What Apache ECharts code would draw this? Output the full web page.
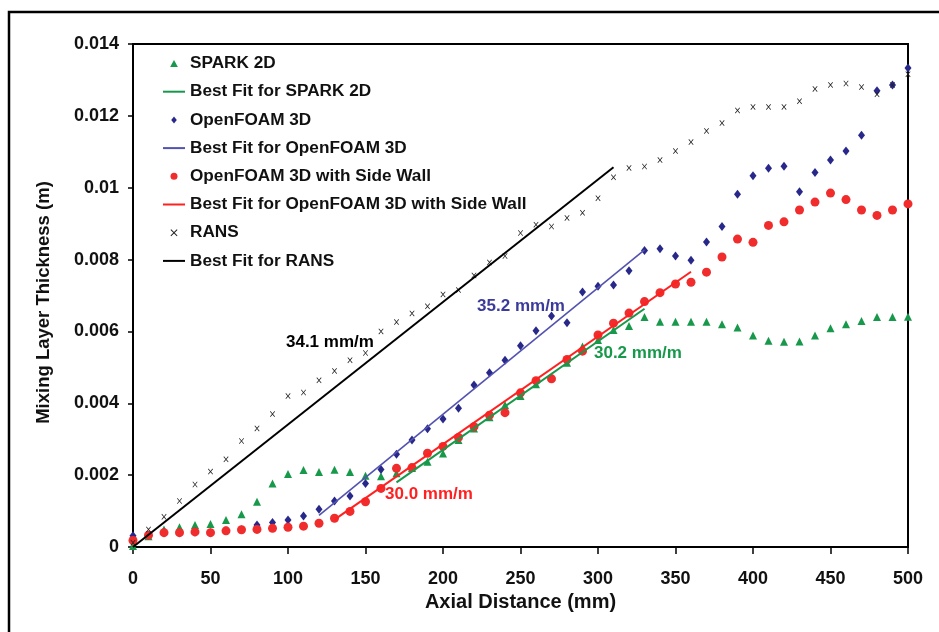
<!DOCTYPE html>
<html>
<head>
<meta charset="utf-8">
<title>Mixing Layer Thickness</title>
<script src="https://cdn.jsdelivr.net/npm/echarts@6/dist/echarts.min.js"></script>
<style>
  html, body { margin: 0; padding: 0; background: #fff; }
  #chart { width: 939px; height: 632px; }
</style>
</head>
<body>
<div id="chart"></div>
<script>
// axial stations (mm)
const axial = [0, 10, 20, 30, 40, 50, 60, 70, 80, 90, 100, 110, 120, 130, 140, 150, 160, 170, 180, 190, 200,
  210, 220, 230, 240, 250, 260, 270, 280, 290, 300, 310, 320, 330, 340, 350, 360, 370, 380, 390, 400,
  410, 420, 430, 440, 450, 460, 470, 480, 490, 500]

// mixing layer thickness (m)
const spark2d = [0.00003, 0.0003, 0.00049, 0.00055, 0.00061, 0.00064, 0.00075, 0.00091, 0.00126, 0.00177, 0.00203,
  0.00214, 0.00209, 0.00215, 0.00209, 0.00198, 0.00197, 0.00205, 0.0022, 0.00237, 0.0026,
  0.00298, 0.0033, 0.00361, 0.00395, 0.0042, 0.00453, 0.00474, 0.00513, 0.00558, 0.00576,
  0.00604, 0.00615, 0.0064, 0.00627, 0.00627, 0.00627, 0.00627, 0.0062, 0.00611, 0.00589,
  0.00574, 0.00571, 0.00572, 0.00589, 0.00609, 0.0062, 0.00629, 0.0064, 0.0064, 0.00641]

const openfoam3d = [0.00031, 0.00033, 0.0004, 0.0004, 0.00042, 0.0004, 0.00045, 0.00048, 0.00061, 0.00068, 0.00075,
  0.00086, 0.00105, 0.00128, 0.00142, 0.00177, 0.00216, 0.00258, 0.00298, 0.00329, 0.00356,
  0.00386, 0.00451, 0.00485, 0.0052, 0.0056, 0.00602, 0.00643, 0.00624, 0.0071, 0.00726,
  0.00729, 0.00769, 0.00825, 0.0083, 0.0081, 0.00798, 0.00849, 0.00892, 0.00982, 0.01033,
  0.01054, 0.0106, 0.00989, 0.01042, 0.01077, 0.01102, 0.01146, 0.0127, 0.01286, 0.01333]

const sideWall = [0.00018, 0.00033, 0.0004, 0.0004, 0.00042, 0.0004, 0.00045, 0.00048, 0.00049, 0.00052, 0.00055,
  0.00058, 0.00066, 0.0008, 0.00099, 0.00126, 0.00163, 0.00219, 0.00221, 0.00261, 0.0028,
  0.00305, 0.00335, 0.00367, 0.00374, 0.00429, 0.00463, 0.00468, 0.00522, 0.00545, 0.0059,
  0.00623, 0.00651, 0.00683, 0.00708, 0.00732, 0.00737, 0.00765, 0.00807, 0.00857, 0.00848,
  0.00895, 0.00905, 0.00938, 0.0096, 0.00985, 0.00967, 0.00938, 0.00923, 0.00938, 0.00955]

const rans = [0.00012, 0.00049, 0.00084, 0.00128, 0.00174, 0.0021, 0.00244, 0.00295, 0.0033, 0.0037, 0.0042,
  0.0043, 0.00464, 0.0049, 0.0052, 0.0054, 0.006, 0.00626, 0.0065, 0.0067, 0.00703,
  0.00715, 0.00756, 0.00792, 0.0081, 0.00874, 0.00897, 0.00892, 0.00916, 0.0093, 0.00971,
  0.01029, 0.01055, 0.01059, 0.01077, 0.01102, 0.01127, 0.01158, 0.0118, 0.01215, 0.01225,
  0.01225, 0.01225, 0.01241, 0.01275, 0.01286, 0.0129, 0.0128, 0.0126, 0.01286, 0.01316]

// best fit segments [x mm, thickness m]
const fitSpark = [[170, 0.0018], [330, 0.00663]]
const fitOpenfoam = [[120, 0.00088], [330, 0.00827]]
const fitSideWall = [[130, 0.00076], [360, 0.00766]]
const fitRans = [[0, 0], [310, 0.01057]]

// slope labels: [text, x mm, thickness m]
const slopeLabels = {
  spark: ['30.2 mm/m', 297.4, 0.0054],
  openfoam: ['35.2 mm/m', 222, 0.00671],
  sideWall: ['30.0 mm/m', 162.6, 0.00148],
  rans: ['34.1 mm/m', 98.7, 0.00571],
}

const names = ['SPARK 2D', 'Best Fit for SPARK 2D', 'OpenFOAM 3D', 'Best Fit for OpenFOAM 3D',
  'OpenFOAM 3D with Side Wall', 'Best Fit for OpenFOAM 3D with Side Wall', 'RANS', 'Best Fit for RANS']

const FONT = 'Arial, "Liberation Sans", sans-serif'
const GREEN = '#17984a'
const BLUE = '#28288a'
const BLUE_LINE = '#5252b0'
const RED = '#f02c2c'
const TRIANGLE = 'path://M0,9L5,0L10,9Z'
const DIAMOND = 'path://M4,0L8,5L4,10L0,5Z'
const XMARK = 'path://M0,1L1,0L5,4L9,0L10,1L6,5L10,9L9,10L5,6L1,10L0,9L4,5Z'

const pairs = ys => axial.map((x, i) => [x, ys[i]])

function slopeMark(lbl, color) {
  return {
    symbol: 'circle',
    symbolSize: 0,
    silent: true,
    label: {
      show: true,
      position: [0, 0],
      align: 'left',
      verticalAlign: 'middle',
      formatter: lbl[0],
      color: color,
      fontFamily: FONT,
      fontWeight: 'bold',
      fontSize: 17,
    },
    data: [{ coord: [lbl[1], lbl[2]] }],
  }
}

function fitLine(name, data, color, width, lbl, lblColor) {
  return {
    name: name,
    type: 'line',
    data: data,
    symbol: 'none',
    lineStyle: { color: color, width: width },
    itemStyle: { color: color },
    markPoint: slopeMark(lbl, lblColor || color),
  }
}

const chart = echarts.init(document.getElementById('chart'))

const option = {
  animation: false,
  backgroundColor: '#fff',
  textStyle: { fontFamily: FONT },
  graphic: [{
    type: 'rect',
    shape: { x: 9, y: 12, width: 1000, height: 1000 },
    style: { fill: 'none', stroke: '#000', lineWidth: 2.5 },
    silent: true,
  }],
  grid: {
    left: 133,
    right: 31,
    top: 44,
    bottom: 85,
    show: true,
    borderColor: '#000',
    borderWidth: 2,
  },
  legend: {
    orient: 'vertical',
    left: 157,
    top: 50,
    itemWidth: 22,
    itemHeight: 7,
    itemGap: 11.2,
    data: [
      { name: names[0], icon: TRIANGLE },
      { name: names[1], itemStyle: { opacity: 0 } },
      { name: names[2], icon: DIAMOND },
      { name: names[3], itemStyle: { opacity: 0 } },
      { name: names[4], icon: 'circle' },
      { name: names[5], itemStyle: { opacity: 0 } },
      { name: names[6], icon: XMARK },
      { name: names[7], itemStyle: { opacity: 0 } },
    ],
    textStyle: { fontFamily: FONT, fontWeight: 'bold', fontSize: 17.2, color: '#111' },
    selectedMode: false,
  },
  xAxis: {
    type: 'value',
    min: 0,
    max: 500,
    interval: 50,
    name: 'Axial Distance (mm)',
    nameLocation: 'middle',
    nameGap: 44,
    nameTextStyle: { fontFamily: FONT, fontWeight: 'bold', fontSize: 20, color: '#111' },
    axisLine: { lineStyle: { color: '#000', width: 2 } },
    axisTick: { show: true, length: 7, lineStyle: { color: '#000', width: 1.5 } },
    axisLabel: { margin: 23, fontFamily: FONT, fontWeight: 'bold', fontSize: 18, color: '#111' },
    splitLine: { show: false },
  },
  yAxis: {
    type: 'value',
    min: 0,
    max: 0.014,
    interval: 0.002,
    name: 'Mixing Layer Thickness (m)',
    nameLocation: 'middle',
    nameGap: 80,
    nameTextStyle: { fontFamily: FONT, fontWeight: 'bold', fontSize: 18.5, color: '#111', padding: [0, 14, 0, 0] },
    axisLine: { show: true, lineStyle: { color: '#000', width: 2 } },
    axisTick: { show: true, length: 5, lineStyle: { color: '#000', width: 1.5 } },
    axisLabel: { margin: 14, fontFamily: FONT, fontWeight: 'bold', fontSize: 18, color: '#111' },
    splitLine: { show: false },
  },
  series: [
    {
      name: names[0],
      type: 'scatter',
      data: pairs(spark2d),
      symbol: 'triangle',
      symbolSize: 8,
      itemStyle: { color: GREEN, opacity: 1 },
    },
    fitLine(names[1], fitSpark, GREEN, 2, slopeLabels.spark),
    {
      name: names[2],
      type: 'scatter',
      data: pairs(openfoam3d),
      symbol: 'diamond',
      symbolSize: [7, 9],
      itemStyle: { color: BLUE, opacity: 1 },
    },
    fitLine(names[3], fitOpenfoam, BLUE_LINE, 1.6, slopeLabels.openfoam, '#3b3b9c'),
    {
      name: names[4],
      type: 'scatter',
      data: pairs(sideWall),
      symbol: 'circle',
      symbolSize: 9,
      itemStyle: { color: RED, opacity: 1 },
    },
    fitLine(names[5], fitSideWall, '#ff2020', 2, slopeLabels.sideWall),
    {
      name: names[6],
      type: 'scatter',
      data: pairs(rans),
      symbol: XMARK,
      symbolSize: [5, 6],
      itemStyle: { color: '#222', opacity: 1 },
    },
    fitLine(names[7], fitRans, '#000', 2, slopeLabels.rans),
  ],
}

chart.setOption(option)
</script>
</body>
</html>
